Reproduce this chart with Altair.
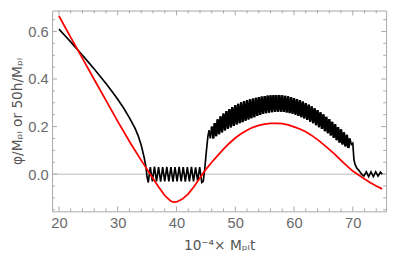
import altair as alt
import pandas as pd

# ---- data ----
# black curve: smooth descent
black_t_a = [20, 21, 22, 23, 24, 25, 26, 27, 28, 29, 30, 31, 32, 33, 33.5, 34, 34.5, 34.8, 35.0]
black_y_a = [0.61, 0.583, 0.556, 0.528, 0.5, 0.471, 0.442, 0.412, 0.381, 0.349, 0.315, 0.278,
             0.237, 0.19, 0.16, 0.122, 0.07, 0.03, -0.012]
# black curve: small oscillations around zero
black_t_b = [35.2, 35.55, 35.9, 36.25, 36.6, 36.95, 37.3, 37.65, 38.0, 38.35, 38.7, 39.05, 39.4,
             39.75, 40.1, 40.45, 40.8, 41.15, 41.5, 41.85, 42.2, 42.55, 42.9, 43.25, 43.6, 43.95,
             44.3, 44.55]
black_y_b = [-0.035, 0.03, -0.03, 0.032, -0.03, 0.03, -0.032, 0.03, -0.03, 0.031, -0.03, 0.03,
             -0.031, 0.03, -0.03, 0.031, -0.03, 0.03, -0.031, 0.03, -0.03, 0.031, -0.03, 0.028,
             -0.028, 0.03, -0.035, -0.03]
# black curve: jump up
black_t_c = [44.8, 45.1, 45.35, 45.55, 45.75]
black_y_c = [0.02, 0.1, 0.16, 0.185, 0.15]
# black curve: dense oscillation band (peaks and troughs)
band_peak_t = [46.0, 46.5, 47.0, 47.5, 48.0, 48.5, 49.0, 49.5, 50.0, 50.5, 51.0, 51.5, 52.0, 52.5,
               53.0, 53.5, 54.0, 54.5, 55.0, 55.5, 56.0, 56.5, 57.0, 57.5, 58.0, 58.5, 59.0, 59.5,
               60.0, 60.5, 61.0, 61.5, 62.0, 62.5, 63.0, 63.5, 64.0, 64.5, 65.0, 65.5, 66.0, 66.5,
               67.0, 67.5, 68.0, 68.5, 69.0, 69.5]
band_peak_y = [0.2, 0.215, 0.23, 0.243, 0.255, 0.265, 0.274, 0.282, 0.29, 0.296, 0.302, 0.307,
               0.311, 0.315, 0.318, 0.321, 0.324, 0.326, 0.328, 0.33, 0.331, 0.332, 0.332, 0.332,
               0.331, 0.329, 0.327, 0.324, 0.32, 0.316, 0.311, 0.305, 0.299, 0.292, 0.285, 0.277,
               0.269, 0.26, 0.251, 0.241, 0.231, 0.22, 0.21, 0.198, 0.188, 0.176, 0.165, 0.15]
band_trough_t = [46.25, 46.75, 47.25, 47.75, 48.25, 48.75, 49.25, 49.75, 50.25, 50.75, 51.25,
                 51.75, 52.25, 52.75, 53.25, 53.75, 54.25, 54.75, 55.25, 55.75, 56.25, 56.75,
                 57.25, 57.75, 58.25, 58.75, 59.25, 59.75, 60.25, 60.75, 61.25, 61.75, 62.25,
                 62.75, 63.25, 63.75, 64.25, 64.75, 65.25, 65.75, 66.25, 66.75, 67.25, 67.75,
                 68.25, 68.75, 69.25]
band_trough_y = [0.15, 0.16, 0.168, 0.176, 0.184, 0.191, 0.197, 0.203, 0.209, 0.214, 0.219, 0.225,
                 0.23, 0.235, 0.24, 0.245, 0.249, 0.253, 0.256, 0.259, 0.261, 0.262, 0.263, 0.263,
                 0.262, 0.26, 0.257, 0.254, 0.25, 0.245, 0.24, 0.234, 0.228, 0.221, 0.214, 0.206,
                 0.198, 0.19, 0.181, 0.172, 0.163, 0.153, 0.143, 0.133, 0.125, 0.117, 0.11]
# black curve: drop and small wiggles at the end
black_t_d = [69.75, 70.0, 70.2, 70.4, 70.7, 71.1, 71.5, 71.9, 72.3, 72.7, 73.1, 73.5, 73.9, 74.3,
             74.7, 75.0]
black_y_d = [0.125, 0.13, 0.06, 0.04, 0.025, 0.014, 0.0, -0.008, 0.01, -0.01, 0.01, -0.01, 0.01,
             -0.008, 0.008, 0.0]

# red curve
red_t = [20, 22, 24, 26, 28, 30, 32, 33, 34, 35, 36, 37, 38, 39, 39.5, 40, 41, 42, 43, 44, 45,
         46, 47, 48, 49, 50, 51, 52, 53, 54, 55, 56, 57, 58, 59, 60, 61, 62, 63, 64, 65, 66, 67,
         68, 69, 70, 71, 72, 73, 74, 75]
red_y = [0.665, 0.575, 0.487, 0.398, 0.31, 0.222, 0.137, 0.097, 0.058, 0.02, -0.018, -0.055,
         -0.09, -0.113, -0.118, -0.117, -0.105, -0.083, -0.052, -0.015, 0.02, 0.05, 0.078, 0.105,
         0.13, 0.152, 0.17, 0.185, 0.197, 0.205, 0.21, 0.213, 0.213, 0.212, 0.207, 0.199, 0.19,
         0.178, 0.163, 0.145, 0.125, 0.104, 0.082, 0.058, 0.035, 0.013, -0.004, -0.02, -0.036,
         -0.05, -0.062]

# ticks
x_major = [20, 30, 40, 50, 60, 70]
x_minor = [22, 24, 26, 28, 32, 34, 36, 38, 42, 44, 46, 48, 52, 54, 56, 58, 62, 64, 66, 68, 72, 74]
y_major = [0.0, 0.2, 0.4, 0.6]
y_minor = [-0.15, -0.1, -0.05, 0.05, 0.1, 0.15, 0.25, 0.3, 0.35, 0.45, 0.5, 0.55, 0.65]

# ---- build tables ----
band_t, band_y = [], []
for i in range(len(band_peak_t)):
    band_t.append(band_peak_t[i]); band_y.append(band_peak_y[i])
    if i < len(band_trough_t):
        band_t.append(band_trough_t[i]); band_y.append(band_trough_y[i])

bt = black_t_a + black_t_b + black_t_c + band_t + black_t_d
by = black_y_a + black_y_b + black_y_c + band_y + black_y_d
black_df = pd.DataFrame({"t": bt, "y": by, "o": range(len(bt))})
band_df = pd.DataFrame({"t": band_t, "y": band_y, "o": range(len(band_t))})
red_df = pd.DataFrame({"t": red_t, "y": red_y, "o": range(len(red_t))})

W, H = 341, 205
xs = alt.Scale(domain=[18.83, 75.67], nice=False, zero=False)
ys = alt.Scale(domain=[-0.1565, 0.688], nice=False, zero=False)
FRAME = "#a8a8a8"
TXT = "#6a6a6a"
LFONT = "Liberation Sans"

xaxis = alt.Axis(values=x_major, format="d", ticks=False, domain=False, grid=False,
                 labelFontSize=15, labelColor=TXT, labelFont=LFONT, labelPadding=5,
                 title="10⁻⁴× Mₚₗt", titleFontSize=14, titleFont="DejaVu Sans",
                 titleFontWeight="normal", titleColor="#555555", titlePadding=8)
yaxis = alt.Axis(values=y_major, format=".1f", ticks=False, domain=False, grid=False,
                 labelFontSize=15, labelColor=TXT, labelFont=LFONT, labelPadding=4,
                 title="φ/Mₚₗ or 50h/Mₚₗ", titleFontSize=14, titleFont="DejaVu Sans",
                 titleFontWeight="normal", titleColor="#555555", titlePadding=3)


def X(field):
    return alt.X(field, scale=xs, axis=xaxis)


def Y(field):
    return alt.Y(field, scale=ys, axis=yaxis)


zero = alt.Chart(pd.DataFrame({"y": [0.0]})).mark_rule(color="#b8b8b8", strokeWidth=1).encode(
    y=Y("y:Q"))

black = alt.Chart(black_df).mark_line(color="black", strokeWidth=1.7, clip=True).encode(
    x=X("t:Q"), y=Y("y:Q"), order="o:Q")
band = alt.Chart(band_df).mark_line(color="black", strokeWidth=2.4, clip=True).encode(
    x=X("t:Q"), y=Y("y:Q"), order="o:Q")
red = alt.Chart(red_df).mark_line(color="#ff0000", strokeWidth=1.8, clip=True).encode(
    x=X("t:Q"), y=Y("y:Q"), order="o:Q")


def xticks(vals, length):
    d = alt.Chart(pd.DataFrame({"v": vals}))
    bot = d.mark_rule(color=FRAME, strokeWidth=1).encode(
        x=X("v:Q"), y=alt.value(H), y2=alt.value(H - length))
    top = d.mark_rule(color=FRAME, strokeWidth=1).encode(
        x=X("v:Q"), y=alt.value(0), y2=alt.value(length))
    return [bot, top]


def yticks(vals, length):
    d = alt.Chart(pd.DataFrame({"v": vals}))
    left = d.mark_rule(color=FRAME, strokeWidth=1).encode(
        y=Y("v:Q"), x=alt.value(0), x2=alt.value(length))
    right = d.mark_rule(color=FRAME, strokeWidth=1).encode(
        y=Y("v:Q"), x=alt.value(W), x2=alt.value(W - length))
    return [left, right]


layers = ([zero] + xticks(x_major, 5) + xticks(x_minor, 3) + yticks(y_major, 5)
          + yticks(y_minor, 3) + [black, band, red])

chart = alt.layer(*layers).properties(
    width=W, height=H,
    padding={"left": 45, "top": 0, "right": 5, "bottom": 44},
    autosize=alt.AutoSizeParams(type="none"),
).configure_view(stroke=FRAME, strokeWidth=1)

chart.save("out.html", embed_options={"renderer": "svg", "actions": False})
